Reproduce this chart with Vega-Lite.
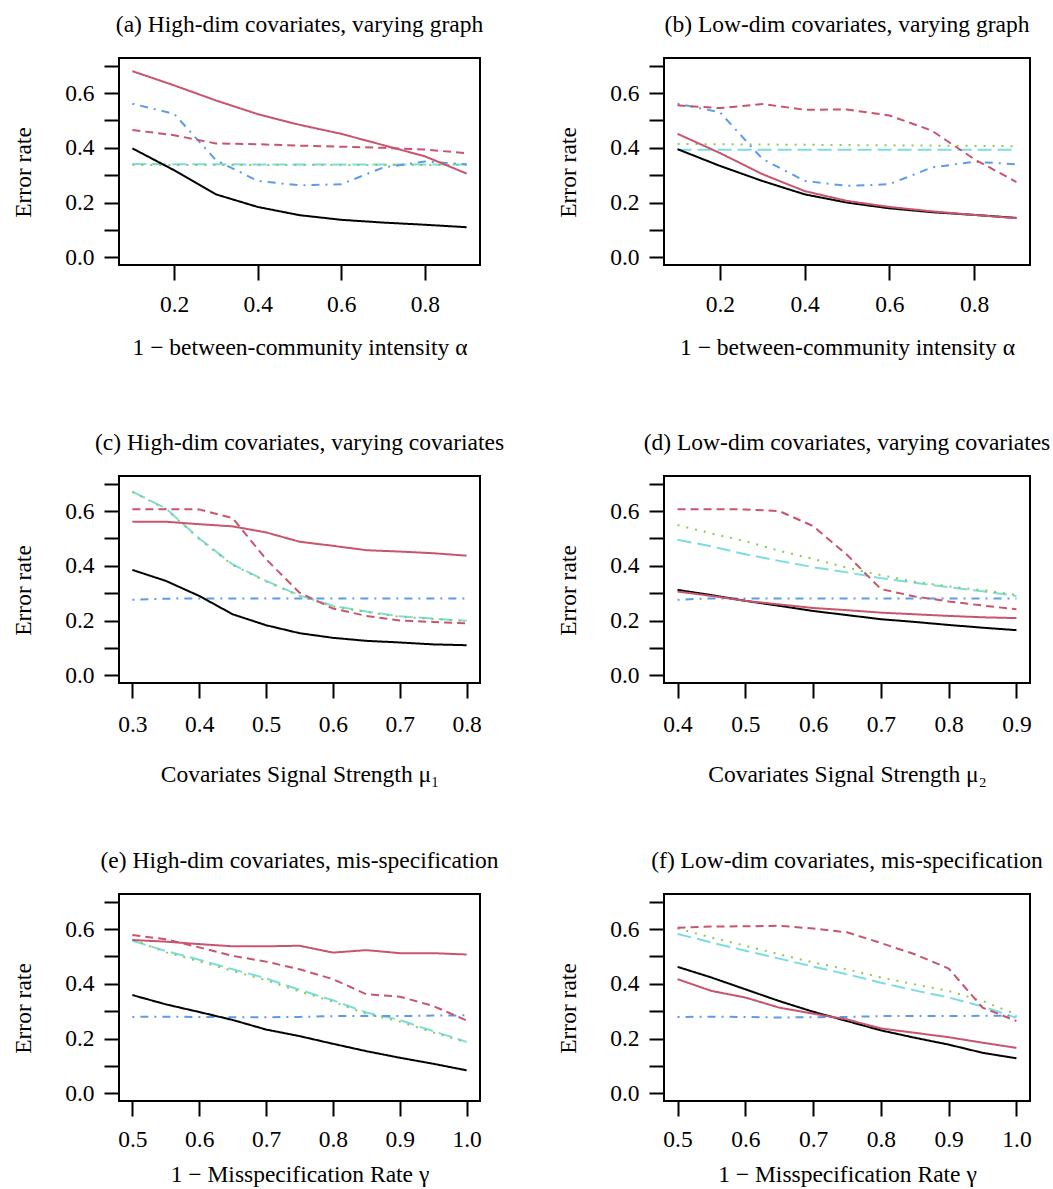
{
  "$schema": "https://vega.github.io/schema/vega-lite/v6.json",
  "padding": {"left": 10, "top": 12, "right": 5, "bottom": 0},
  "background": "white",
  "bounds": "flush",
  "columns": 2,
  "spacing": {"row": 211, "column": 184},
  "datasets": {
    "table": [
      {"panel":"a","method":"M5","x":0.1,"y":0.341},{"panel":"a","method":"M5","x":0.2,"y":0.340},{"panel":"a","method":"M5","x":0.3,"y":0.340},{"panel":"a","method":"M5","x":0.4,"y":0.339},{"panel":"a","method":"M5","x":0.5,"y":0.339},{"panel":"a","method":"M5","x":0.6,"y":0.339},{"panel":"a","method":"M5","x":0.7,"y":0.339},{"panel":"a","method":"M5","x":0.8,"y":0.339},{"panel":"a","method":"M5","x":0.9,"y":0.339},
      {"panel":"a","method":"M6","x":0.1,"y":0.337},{"panel":"a","method":"M6","x":0.2,"y":0.337},{"panel":"a","method":"M6","x":0.3,"y":0.337},{"panel":"a","method":"M6","x":0.4,"y":0.337},{"panel":"a","method":"M6","x":0.5,"y":0.337},{"panel":"a","method":"M6","x":0.6,"y":0.337},{"panel":"a","method":"M6","x":0.7,"y":0.337},{"panel":"a","method":"M6","x":0.8,"y":0.337},{"panel":"a","method":"M6","x":0.9,"y":0.337},
      {"panel":"a","method":"M4","x":0.1,"y":0.561},{"panel":"a","method":"M4","x":0.2,"y":0.524},{"panel":"a","method":"M4","x":0.3,"y":0.355},{"panel":"a","method":"M4","x":0.4,"y":0.279},{"panel":"a","method":"M4","x":0.5,"y":0.263},{"panel":"a","method":"M4","x":0.6,"y":0.267},{"panel":"a","method":"M4","x":0.7,"y":0.328},{"panel":"a","method":"M4","x":0.8,"y":0.350},{"panel":"a","method":"M4","x":0.9,"y":0.340},
      {"panel":"a","method":"M3","x":0.1,"y":0.465},{"panel":"a","method":"M3","x":0.2,"y":0.446},{"panel":"a","method":"M3","x":0.3,"y":0.416},{"panel":"a","method":"M3","x":0.4,"y":0.413},{"panel":"a","method":"M3","x":0.5,"y":0.408},{"panel":"a","method":"M3","x":0.6,"y":0.404},{"panel":"a","method":"M3","x":0.7,"y":0.400},{"panel":"a","method":"M3","x":0.8,"y":0.394},{"panel":"a","method":"M3","x":0.9,"y":0.380},
      {"panel":"a","method":"M1","x":0.1,"y":0.398},{"panel":"a","method":"M1","x":0.2,"y":0.318},{"panel":"a","method":"M1","x":0.3,"y":0.230},{"panel":"a","method":"M1","x":0.4,"y":0.184},{"panel":"a","method":"M1","x":0.5,"y":0.154},{"panel":"a","method":"M1","x":0.6,"y":0.137},{"panel":"a","method":"M1","x":0.7,"y":0.127},{"panel":"a","method":"M1","x":0.8,"y":0.119},{"panel":"a","method":"M1","x":0.9,"y":0.110},
      {"panel":"a","method":"M2","x":0.1,"y":0.680},{"panel":"a","method":"M2","x":0.2,"y":0.628},{"panel":"a","method":"M2","x":0.3,"y":0.573},{"panel":"a","method":"M2","x":0.4,"y":0.523},{"panel":"a","method":"M2","x":0.5,"y":0.484},{"panel":"a","method":"M2","x":0.6,"y":0.451},{"panel":"a","method":"M2","x":0.7,"y":0.410},{"panel":"a","method":"M2","x":0.8,"y":0.369},{"panel":"a","method":"M2","x":0.9,"y":0.306},

      {"panel":"b","method":"M5","x":0.1,"y":0.393},{"panel":"b","method":"M5","x":0.2,"y":0.393},{"panel":"b","method":"M5","x":0.3,"y":0.393},{"panel":"b","method":"M5","x":0.4,"y":0.393},{"panel":"b","method":"M5","x":0.5,"y":0.393},{"panel":"b","method":"M5","x":0.6,"y":0.393},{"panel":"b","method":"M5","x":0.7,"y":0.393},{"panel":"b","method":"M5","x":0.8,"y":0.393},{"panel":"b","method":"M5","x":0.9,"y":0.393},
      {"panel":"b","method":"M6","x":0.1,"y":0.414},{"panel":"b","method":"M6","x":0.2,"y":0.413},{"panel":"b","method":"M6","x":0.3,"y":0.412},{"panel":"b","method":"M6","x":0.4,"y":0.411},{"panel":"b","method":"M6","x":0.5,"y":0.410},{"panel":"b","method":"M6","x":0.6,"y":0.409},{"panel":"b","method":"M6","x":0.7,"y":0.408},{"panel":"b","method":"M6","x":0.8,"y":0.407},{"panel":"b","method":"M6","x":0.9,"y":0.406},
      {"panel":"b","method":"M4","x":0.1,"y":0.561},{"panel":"b","method":"M4","x":0.2,"y":0.530},{"panel":"b","method":"M4","x":0.3,"y":0.360},{"panel":"b","method":"M4","x":0.4,"y":0.279},{"panel":"b","method":"M4","x":0.5,"y":0.261},{"panel":"b","method":"M4","x":0.6,"y":0.267},{"panel":"b","method":"M4","x":0.7,"y":0.328},{"panel":"b","method":"M4","x":0.8,"y":0.349},{"panel":"b","method":"M4","x":0.9,"y":0.340},
      {"panel":"b","method":"M3","x":0.1,"y":0.555},{"panel":"b","method":"M3","x":0.2,"y":0.545},{"panel":"b","method":"M3","x":0.3,"y":0.560},{"panel":"b","method":"M3","x":0.4,"y":0.539},{"panel":"b","method":"M3","x":0.5,"y":0.540},{"panel":"b","method":"M3","x":0.6,"y":0.518},{"panel":"b","method":"M3","x":0.7,"y":0.463},{"panel":"b","method":"M3","x":0.8,"y":0.359},{"panel":"b","method":"M3","x":0.9,"y":0.275},
      {"panel":"b","method":"M1","x":0.1,"y":0.395},{"panel":"b","method":"M1","x":0.2,"y":0.334},{"panel":"b","method":"M1","x":0.3,"y":0.279},{"panel":"b","method":"M1","x":0.4,"y":0.230},{"panel":"b","method":"M1","x":0.5,"y":0.200},{"panel":"b","method":"M1","x":0.6,"y":0.179},{"panel":"b","method":"M1","x":0.7,"y":0.165},{"panel":"b","method":"M1","x":0.8,"y":0.155},{"panel":"b","method":"M1","x":0.9,"y":0.144},
      {"panel":"b","method":"M2","x":0.1,"y":0.451},{"panel":"b","method":"M2","x":0.2,"y":0.381},{"panel":"b","method":"M2","x":0.3,"y":0.304},{"panel":"b","method":"M2","x":0.4,"y":0.242},{"panel":"b","method":"M2","x":0.5,"y":0.206},{"panel":"b","method":"M2","x":0.6,"y":0.184},{"panel":"b","method":"M2","x":0.7,"y":0.168},{"panel":"b","method":"M2","x":0.8,"y":0.155},{"panel":"b","method":"M2","x":0.9,"y":0.143},

      {"panel":"c","method":"M5","x":0.30,"y":0.671},{"panel":"c","method":"M5","x":0.35,"y":0.610},{"panel":"c","method":"M5","x":0.40,"y":0.500},{"panel":"c","method":"M5","x":0.45,"y":0.405},{"panel":"c","method":"M5","x":0.50,"y":0.345},{"panel":"c","method":"M5","x":0.55,"y":0.292},{"panel":"c","method":"M5","x":0.60,"y":0.254},{"panel":"c","method":"M5","x":0.65,"y":0.233},{"panel":"c","method":"M5","x":0.70,"y":0.216},{"panel":"c","method":"M5","x":0.75,"y":0.207},{"panel":"c","method":"M5","x":0.80,"y":0.199},
      {"panel":"c","method":"M6","x":0.30,"y":0.670},{"panel":"c","method":"M6","x":0.35,"y":0.608},{"panel":"c","method":"M6","x":0.40,"y":0.498},{"panel":"c","method":"M6","x":0.45,"y":0.403},{"panel":"c","method":"M6","x":0.50,"y":0.343},{"panel":"c","method":"M6","x":0.55,"y":0.290},{"panel":"c","method":"M6","x":0.60,"y":0.252},{"panel":"c","method":"M6","x":0.65,"y":0.231},{"panel":"c","method":"M6","x":0.70,"y":0.214},{"panel":"c","method":"M6","x":0.75,"y":0.206},{"panel":"c","method":"M6","x":0.80,"y":0.198},
      {"panel":"c","method":"M4","x":0.30,"y":0.276},{"panel":"c","method":"M4","x":0.35,"y":0.280},{"panel":"c","method":"M4","x":0.40,"y":0.281},{"panel":"c","method":"M4","x":0.45,"y":0.281},{"panel":"c","method":"M4","x":0.50,"y":0.281},{"panel":"c","method":"M4","x":0.55,"y":0.281},{"panel":"c","method":"M4","x":0.60,"y":0.281},{"panel":"c","method":"M4","x":0.65,"y":0.281},{"panel":"c","method":"M4","x":0.70,"y":0.281},{"panel":"c","method":"M4","x":0.75,"y":0.281},{"panel":"c","method":"M4","x":0.80,"y":0.281},
      {"panel":"c","method":"M3","x":0.30,"y":0.607},{"panel":"c","method":"M3","x":0.35,"y":0.607},{"panel":"c","method":"M3","x":0.40,"y":0.606},{"panel":"c","method":"M3","x":0.45,"y":0.574},{"panel":"c","method":"M3","x":0.50,"y":0.424},{"panel":"c","method":"M3","x":0.55,"y":0.302},{"panel":"c","method":"M3","x":0.60,"y":0.244},{"panel":"c","method":"M3","x":0.65,"y":0.217},{"panel":"c","method":"M3","x":0.70,"y":0.200},{"panel":"c","method":"M3","x":0.75,"y":0.195},{"panel":"c","method":"M3","x":0.80,"y":0.190},
      {"panel":"c","method":"M1","x":0.30,"y":0.385},{"panel":"c","method":"M1","x":0.35,"y":0.345},{"panel":"c","method":"M1","x":0.40,"y":0.290},{"panel":"c","method":"M1","x":0.45,"y":0.223},{"panel":"c","method":"M1","x":0.50,"y":0.183},{"panel":"c","method":"M1","x":0.55,"y":0.154},{"panel":"c","method":"M1","x":0.60,"y":0.137},{"panel":"c","method":"M1","x":0.65,"y":0.126},{"panel":"c","method":"M1","x":0.70,"y":0.120},{"panel":"c","method":"M1","x":0.75,"y":0.113},{"panel":"c","method":"M1","x":0.80,"y":0.110},
      {"panel":"c","method":"M2","x":0.30,"y":0.561},{"panel":"c","method":"M2","x":0.35,"y":0.561},{"panel":"c","method":"M2","x":0.40,"y":0.552},{"panel":"c","method":"M2","x":0.45,"y":0.544},{"panel":"c","method":"M2","x":0.50,"y":0.522},{"panel":"c","method":"M2","x":0.55,"y":0.488},{"panel":"c","method":"M2","x":0.60,"y":0.473},{"panel":"c","method":"M2","x":0.65,"y":0.457},{"panel":"c","method":"M2","x":0.70,"y":0.452},{"panel":"c","method":"M2","x":0.75,"y":0.446},{"panel":"c","method":"M2","x":0.80,"y":0.437},

      {"panel":"d","method":"M5","x":0.40,"y":0.495},{"panel":"d","method":"M5","x":0.45,"y":0.471},{"panel":"d","method":"M5","x":0.50,"y":0.442},{"panel":"d","method":"M5","x":0.55,"y":0.418},{"panel":"d","method":"M5","x":0.60,"y":0.395},{"panel":"d","method":"M5","x":0.65,"y":0.376},{"panel":"d","method":"M5","x":0.70,"y":0.355},{"panel":"d","method":"M5","x":0.75,"y":0.338},{"panel":"d","method":"M5","x":0.80,"y":0.322},{"panel":"d","method":"M5","x":0.85,"y":0.307},{"panel":"d","method":"M5","x":0.90,"y":0.290},
      {"panel":"d","method":"M6","x":0.40,"y":0.549},{"panel":"d","method":"M6","x":0.45,"y":0.518},{"panel":"d","method":"M6","x":0.50,"y":0.490},{"panel":"d","method":"M6","x":0.55,"y":0.455},{"panel":"d","method":"M6","x":0.60,"y":0.425},{"panel":"d","method":"M6","x":0.65,"y":0.393},{"panel":"d","method":"M6","x":0.70,"y":0.366},{"panel":"d","method":"M6","x":0.75,"y":0.342},{"panel":"d","method":"M6","x":0.80,"y":0.325},{"panel":"d","method":"M6","x":0.85,"y":0.311},{"panel":"d","method":"M6","x":0.90,"y":0.294},
      {"panel":"d","method":"M4","x":0.40,"y":0.276},{"panel":"d","method":"M4","x":0.45,"y":0.281},{"panel":"d","method":"M4","x":0.50,"y":0.281},{"panel":"d","method":"M4","x":0.55,"y":0.281},{"panel":"d","method":"M4","x":0.60,"y":0.281},{"panel":"d","method":"M4","x":0.65,"y":0.281},{"panel":"d","method":"M4","x":0.70,"y":0.281},{"panel":"d","method":"M4","x":0.75,"y":0.281},{"panel":"d","method":"M4","x":0.80,"y":0.281},{"panel":"d","method":"M4","x":0.85,"y":0.281},{"panel":"d","method":"M4","x":0.90,"y":0.281},
      {"panel":"d","method":"M3","x":0.40,"y":0.607},{"panel":"d","method":"M3","x":0.45,"y":0.607},{"panel":"d","method":"M3","x":0.50,"y":0.606},{"panel":"d","method":"M3","x":0.55,"y":0.600},{"panel":"d","method":"M3","x":0.60,"y":0.545},{"panel":"d","method":"M3","x":0.65,"y":0.440},{"panel":"d","method":"M3","x":0.70,"y":0.315},{"panel":"d","method":"M3","x":0.75,"y":0.288},{"panel":"d","method":"M3","x":0.80,"y":0.270},{"panel":"d","method":"M3","x":0.85,"y":0.255},{"panel":"d","method":"M3","x":0.90,"y":0.241},
      {"panel":"d","method":"M1","x":0.40,"y":0.312},{"panel":"d","method":"M1","x":0.45,"y":0.293},{"panel":"d","method":"M1","x":0.50,"y":0.272},{"panel":"d","method":"M1","x":0.55,"y":0.254},{"panel":"d","method":"M1","x":0.60,"y":0.235},{"panel":"d","method":"M1","x":0.65,"y":0.220},{"panel":"d","method":"M1","x":0.70,"y":0.205},{"panel":"d","method":"M1","x":0.75,"y":0.195},{"panel":"d","method":"M1","x":0.80,"y":0.184},{"panel":"d","method":"M1","x":0.85,"y":0.174},{"panel":"d","method":"M1","x":0.90,"y":0.165},
      {"panel":"d","method":"M2","x":0.40,"y":0.306},{"panel":"d","method":"M2","x":0.45,"y":0.290},{"panel":"d","method":"M2","x":0.50,"y":0.272},{"panel":"d","method":"M2","x":0.55,"y":0.259},{"panel":"d","method":"M2","x":0.60,"y":0.246},{"panel":"d","method":"M2","x":0.65,"y":0.238},{"panel":"d","method":"M2","x":0.70,"y":0.229},{"panel":"d","method":"M2","x":0.75,"y":0.223},{"panel":"d","method":"M2","x":0.80,"y":0.217},{"panel":"d","method":"M2","x":0.85,"y":0.212},{"panel":"d","method":"M2","x":0.90,"y":0.209},

      {"panel":"e","method":"M5","x":0.50,"y":0.557},{"panel":"e","method":"M5","x":0.55,"y":0.520},{"panel":"e","method":"M5","x":0.60,"y":0.488},{"panel":"e","method":"M5","x":0.65,"y":0.453},{"panel":"e","method":"M5","x":0.70,"y":0.420},{"panel":"e","method":"M5","x":0.75,"y":0.378},{"panel":"e","method":"M5","x":0.80,"y":0.340},{"panel":"e","method":"M5","x":0.85,"y":0.295},{"panel":"e","method":"M5","x":0.90,"y":0.268},{"panel":"e","method":"M5","x":0.95,"y":0.227},{"panel":"e","method":"M5","x":1.00,"y":0.188},
      {"panel":"e","method":"M6","x":0.50,"y":0.562},{"panel":"e","method":"M6","x":0.55,"y":0.515},{"panel":"e","method":"M6","x":0.60,"y":0.482},{"panel":"e","method":"M6","x":0.65,"y":0.447},{"panel":"e","method":"M6","x":0.70,"y":0.413},{"panel":"e","method":"M6","x":0.75,"y":0.372},{"panel":"e","method":"M6","x":0.80,"y":0.335},{"panel":"e","method":"M6","x":0.85,"y":0.290},{"panel":"e","method":"M6","x":0.90,"y":0.262},{"panel":"e","method":"M6","x":0.95,"y":0.222},{"panel":"e","method":"M6","x":1.00,"y":0.186},
      {"panel":"e","method":"M4","x":0.50,"y":0.279},{"panel":"e","method":"M4","x":0.55,"y":0.280},{"panel":"e","method":"M4","x":0.60,"y":0.279},{"panel":"e","method":"M4","x":0.65,"y":0.278},{"panel":"e","method":"M4","x":0.70,"y":0.278},{"panel":"e","method":"M4","x":0.75,"y":0.279},{"panel":"e","method":"M4","x":0.80,"y":0.282},{"panel":"e","method":"M4","x":0.85,"y":0.282},{"panel":"e","method":"M4","x":0.90,"y":0.282},{"panel":"e","method":"M4","x":0.95,"y":0.284},{"panel":"e","method":"M4","x":1.00,"y":0.285},
      {"panel":"e","method":"M3","x":0.50,"y":0.578},{"panel":"e","method":"M3","x":0.55,"y":0.563},{"panel":"e","method":"M3","x":0.60,"y":0.533},{"panel":"e","method":"M3","x":0.65,"y":0.502},{"panel":"e","method":"M3","x":0.70,"y":0.481},{"panel":"e","method":"M3","x":0.75,"y":0.453},{"panel":"e","method":"M3","x":0.80,"y":0.417},{"panel":"e","method":"M3","x":0.85,"y":0.362},{"panel":"e","method":"M3","x":0.90,"y":0.353},{"panel":"e","method":"M3","x":0.95,"y":0.319},{"panel":"e","method":"M3","x":1.00,"y":0.266},
      {"panel":"e","method":"M1","x":0.50,"y":0.359},{"panel":"e","method":"M1","x":0.55,"y":0.325},{"panel":"e","method":"M1","x":0.60,"y":0.297},{"panel":"e","method":"M1","x":0.65,"y":0.268},{"panel":"e","method":"M1","x":0.70,"y":0.233},{"panel":"e","method":"M1","x":0.75,"y":0.209},{"panel":"e","method":"M1","x":0.80,"y":0.181},{"panel":"e","method":"M1","x":0.85,"y":0.154},{"panel":"e","method":"M1","x":0.90,"y":0.130},{"panel":"e","method":"M1","x":0.95,"y":0.108},{"panel":"e","method":"M1","x":1.00,"y":0.084},
      {"panel":"e","method":"M2","x":0.50,"y":0.560},{"panel":"e","method":"M2","x":0.55,"y":0.554},{"panel":"e","method":"M2","x":0.60,"y":0.545},{"panel":"e","method":"M2","x":0.65,"y":0.537},{"panel":"e","method":"M2","x":0.70,"y":0.537},{"panel":"e","method":"M2","x":0.75,"y":0.539},{"panel":"e","method":"M2","x":0.80,"y":0.514},{"panel":"e","method":"M2","x":0.85,"y":0.523},{"panel":"e","method":"M2","x":0.90,"y":0.512},{"panel":"e","method":"M2","x":0.95,"y":0.512},{"panel":"e","method":"M2","x":1.00,"y":0.507},

      {"panel":"f","method":"M5","x":0.50,"y":0.582},{"panel":"f","method":"M5","x":0.55,"y":0.551},{"panel":"f","method":"M5","x":0.60,"y":0.521},{"panel":"f","method":"M5","x":0.65,"y":0.492},{"panel":"f","method":"M5","x":0.70,"y":0.463},{"panel":"f","method":"M5","x":0.75,"y":0.435},{"panel":"f","method":"M5","x":0.80,"y":0.404},{"panel":"f","method":"M5","x":0.85,"y":0.376},{"panel":"f","method":"M5","x":0.90,"y":0.350},{"panel":"f","method":"M5","x":0.95,"y":0.317},{"panel":"f","method":"M5","x":1.00,"y":0.276},
      {"panel":"f","method":"M6","x":0.50,"y":0.602},{"panel":"f","method":"M6","x":0.55,"y":0.569},{"panel":"f","method":"M6","x":0.60,"y":0.539},{"panel":"f","method":"M6","x":0.65,"y":0.508},{"panel":"f","method":"M6","x":0.70,"y":0.478},{"panel":"f","method":"M6","x":0.75,"y":0.453},{"panel":"f","method":"M6","x":0.80,"y":0.423},{"panel":"f","method":"M6","x":0.85,"y":0.398},{"panel":"f","method":"M6","x":0.90,"y":0.374},{"panel":"f","method":"M6","x":0.95,"y":0.337},{"panel":"f","method":"M6","x":1.00,"y":0.288},
      {"panel":"f","method":"M4","x":0.50,"y":0.279},{"panel":"f","method":"M4","x":0.55,"y":0.280},{"panel":"f","method":"M4","x":0.60,"y":0.279},{"panel":"f","method":"M4","x":0.65,"y":0.277},{"panel":"f","method":"M4","x":0.70,"y":0.278},{"panel":"f","method":"M4","x":0.75,"y":0.279},{"panel":"f","method":"M4","x":0.80,"y":0.282},{"panel":"f","method":"M4","x":0.85,"y":0.282},{"panel":"f","method":"M4","x":0.90,"y":0.282},{"panel":"f","method":"M4","x":0.95,"y":0.283},{"panel":"f","method":"M4","x":1.00,"y":0.283},
      {"panel":"f","method":"M3","x":0.50,"y":0.605},{"panel":"f","method":"M3","x":0.55,"y":0.609},{"panel":"f","method":"M3","x":0.60,"y":0.610},{"panel":"f","method":"M3","x":0.65,"y":0.612},{"panel":"f","method":"M3","x":0.70,"y":0.602},{"panel":"f","method":"M3","x":0.75,"y":0.588},{"panel":"f","method":"M3","x":0.80,"y":0.549},{"panel":"f","method":"M3","x":0.85,"y":0.508},{"panel":"f","method":"M3","x":0.90,"y":0.456},{"panel":"f","method":"M3","x":0.95,"y":0.313},{"panel":"f","method":"M3","x":1.00,"y":0.264},
      {"panel":"f","method":"M1","x":0.50,"y":0.462},{"panel":"f","method":"M1","x":0.55,"y":0.423},{"panel":"f","method":"M1","x":0.60,"y":0.380},{"panel":"f","method":"M1","x":0.65,"y":0.337},{"panel":"f","method":"M1","x":0.70,"y":0.298},{"panel":"f","method":"M1","x":0.75,"y":0.264},{"panel":"f","method":"M1","x":0.80,"y":0.230},{"panel":"f","method":"M1","x":0.85,"y":0.203},{"panel":"f","method":"M1","x":0.90,"y":0.178},{"panel":"f","method":"M1","x":0.95,"y":0.148},{"panel":"f","method":"M1","x":1.00,"y":0.128},
      {"panel":"f","method":"M2","x":0.50,"y":0.417},{"panel":"f","method":"M2","x":0.55,"y":0.374},{"panel":"f","method":"M2","x":0.60,"y":0.350},{"panel":"f","method":"M2","x":0.65,"y":0.313},{"panel":"f","method":"M2","x":0.70,"y":0.291},{"panel":"f","method":"M2","x":0.75,"y":0.270},{"panel":"f","method":"M2","x":0.80,"y":0.237},{"panel":"f","method":"M2","x":0.85,"y":0.221},{"panel":"f","method":"M2","x":0.90,"y":0.205},{"panel":"f","method":"M2","x":0.95,"y":0.185},{"panel":"f","method":"M2","x":1.00,"y":0.166}
    ]
  },
  "concat": [
    {
      "width": 361, "height": 207,
      "title": "(a) High-dim covariates, varying graph",
      "data": {"name": "table"},
      "transform": [{"filter": "datum.panel === 'a'"}],
      "mark": {"type": "line", "strokeWidth": 2, "strokeCap": "butt", "clip": true},
      "encoding": {
        "x": {"field": "x", "type": "quantitative", "scale": {"domain": [0.068, 0.932], "nice": false, "zero": false}, "axis": {"values": [0.2, 0.4, 0.6, 0.8], "format": ".1f", "title": "1 − between-community intensity α", "titleY": 89, "labelPadding": 12}},
        "y": {"field": "y", "type": "quantitative", "scale": {"domain": [-0.028, 0.728], "nice": false, "zero": false}, "axis": {"values": [0, 0.1, 0.2, 0.3, 0.4, 0.5, 0.6, 0.7], "labelExpr": "round(datum.value*10) % 2 === 0 ? format(datum.value, '.1f') : ''", "title": "Error rate"}},
        "color": {"field": "method", "type": "nominal", "scale": {"domain": ["M1", "M2", "M3", "M4", "M5", "M6"], "range": ["#000000", "#C9546E", "#C9546E", "#5B9BE8", "#7CDCE0", "#8CCB4E"]}, "legend": null},
        "strokeDash": {"field": "method", "type": "nominal", "scale": {"domain": ["M1", "M2", "M3", "M4", "M5", "M6"], "range": [[1, 0], [1, 0], [8, 5], [2, 6, 8, 6], [14, 6], [2, 7]]}, "legend": null}
      }
    },
    {
      "width": 366, "height": 207,
      "title": "(b) Low-dim covariates, varying graph",
      "data": {"name": "table"},
      "transform": [{"filter": "datum.panel === 'b'"}],
      "mark": {"type": "line", "strokeWidth": 2, "strokeCap": "butt", "clip": true},
      "encoding": {
        "x": {"field": "x", "type": "quantitative", "scale": {"domain": [0.068, 0.932], "nice": false, "zero": false}, "axis": {"values": [0.2, 0.4, 0.6, 0.8], "format": ".1f", "title": "1 − between-community intensity α", "titleY": 89, "labelPadding": 12}},
        "y": {"field": "y", "type": "quantitative", "scale": {"domain": [-0.028, 0.728], "nice": false, "zero": false}, "axis": {"values": [0, 0.1, 0.2, 0.3, 0.4, 0.5, 0.6, 0.7], "labelExpr": "round(datum.value*10) % 2 === 0 ? format(datum.value, '.1f') : ''", "title": "Error rate"}},
        "color": {"field": "method", "type": "nominal", "scale": {"domain": ["M1", "M2", "M3", "M4", "M5", "M6"], "range": ["#000000", "#C9546E", "#C9546E", "#5B9BE8", "#7CDCE0", "#8CCB4E"]}, "legend": null},
        "strokeDash": {"field": "method", "type": "nominal", "scale": {"domain": ["M1", "M2", "M3", "M4", "M5", "M6"], "range": [[1, 0], [1, 0], [8, 5], [2, 6, 8, 6], [14, 6], [2, 7]]}, "legend": null}
      }
    },
    {
      "width": 361, "height": 207,
      "title": "(c) High-dim covariates, varying covariates",
      "data": {"name": "table"},
      "transform": [{"filter": "datum.panel === 'c'"}],
      "mark": {"type": "line", "strokeWidth": 2, "strokeCap": "butt", "clip": true},
      "encoding": {
        "x": {"field": "x", "type": "quantitative", "scale": {"domain": [0.28, 0.82], "nice": false, "zero": false}, "axis": {"values": [0.3, 0.4, 0.5, 0.6, 0.7, 0.8], "format": ".1f", "title": "Covariates Signal Strength μ₁", "titleY": 98, "labelPadding": 14}},
        "y": {"field": "y", "type": "quantitative", "scale": {"domain": [-0.028, 0.728], "nice": false, "zero": false}, "axis": {"values": [0, 0.1, 0.2, 0.3, 0.4, 0.5, 0.6, 0.7], "labelExpr": "round(datum.value*10) % 2 === 0 ? format(datum.value, '.1f') : ''", "title": "Error rate"}},
        "color": {"field": "method", "type": "nominal", "scale": {"domain": ["M1", "M2", "M3", "M4", "M5", "M6"], "range": ["#000000", "#C9546E", "#C9546E", "#5B9BE8", "#7CDCE0", "#8CCB4E"]}, "legend": null},
        "strokeDash": {"field": "method", "type": "nominal", "scale": {"domain": ["M1", "M2", "M3", "M4", "M5", "M6"], "range": [[1, 0], [1, 0], [8, 5], [2, 6, 8, 6], [14, 6], [2, 7]]}, "legend": null}
      }
    },
    {
      "width": 366, "height": 207,
      "title": "(d) Low-dim covariates, varying covariates",
      "data": {"name": "table"},
      "transform": [{"filter": "datum.panel === 'd'"}],
      "mark": {"type": "line", "strokeWidth": 2, "strokeCap": "butt", "clip": true},
      "encoding": {
        "x": {"field": "x", "type": "quantitative", "scale": {"domain": [0.38, 0.92], "nice": false, "zero": false}, "axis": {"values": [0.4, 0.5, 0.6, 0.7, 0.8, 0.9], "format": ".1f", "title": "Covariates Signal Strength μ₂", "titleY": 98, "labelPadding": 14}},
        "y": {"field": "y", "type": "quantitative", "scale": {"domain": [-0.028, 0.728], "nice": false, "zero": false}, "axis": {"values": [0, 0.1, 0.2, 0.3, 0.4, 0.5, 0.6, 0.7], "labelExpr": "round(datum.value*10) % 2 === 0 ? format(datum.value, '.1f') : ''", "title": "Error rate"}},
        "color": {"field": "method", "type": "nominal", "scale": {"domain": ["M1", "M2", "M3", "M4", "M5", "M6"], "range": ["#000000", "#C9546E", "#C9546E", "#5B9BE8", "#7CDCE0", "#8CCB4E"]}, "legend": null},
        "strokeDash": {"field": "method", "type": "nominal", "scale": {"domain": ["M1", "M2", "M3", "M4", "M5", "M6"], "range": [[1, 0], [1, 0], [8, 5], [2, 6, 8, 6], [14, 6], [2, 7]]}, "legend": null}
      }
    },
    {
      "width": 361, "height": 207,
      "title": "(e) High-dim covariates, mis-specification",
      "data": {"name": "table"},
      "transform": [{"filter": "datum.panel === 'e'"}],
      "mark": {"type": "line", "strokeWidth": 2, "strokeCap": "butt", "clip": true},
      "encoding": {
        "x": {"field": "x", "type": "quantitative", "scale": {"domain": [0.48, 1.02], "nice": false, "zero": false}, "axis": {"values": [0.5, 0.6, 0.7, 0.8, 0.9, 1.0], "format": ".1f", "title": "1 − Misspecification Rate γ", "titleY": 80, "labelPadding": 11}},
        "y": {"field": "y", "type": "quantitative", "scale": {"domain": [-0.028, 0.728], "nice": false, "zero": false}, "axis": {"values": [0, 0.1, 0.2, 0.3, 0.4, 0.5, 0.6, 0.7], "labelExpr": "round(datum.value*10) % 2 === 0 ? format(datum.value, '.1f') : ''", "title": "Error rate"}},
        "color": {"field": "method", "type": "nominal", "scale": {"domain": ["M1", "M2", "M3", "M4", "M5", "M6"], "range": ["#000000", "#C9546E", "#C9546E", "#5B9BE8", "#7CDCE0", "#8CCB4E"]}, "legend": null},
        "strokeDash": {"field": "method", "type": "nominal", "scale": {"domain": ["M1", "M2", "M3", "M4", "M5", "M6"], "range": [[1, 0], [1, 0], [8, 5], [2, 6, 8, 6], [14, 6], [2, 7]]}, "legend": null}
      }
    },
    {
      "width": 366, "height": 207,
      "title": "(f) Low-dim covariates, mis-specification",
      "data": {"name": "table"},
      "transform": [{"filter": "datum.panel === 'f'"}],
      "mark": {"type": "line", "strokeWidth": 2, "strokeCap": "butt", "clip": true},
      "encoding": {
        "x": {"field": "x", "type": "quantitative", "scale": {"domain": [0.48, 1.02], "nice": false, "zero": false}, "axis": {"values": [0.5, 0.6, 0.7, 0.8, 0.9, 1.0], "format": ".1f", "title": "1 − Misspecification Rate γ", "titleY": 80, "labelPadding": 11}},
        "y": {"field": "y", "type": "quantitative", "scale": {"domain": [-0.028, 0.728], "nice": false, "zero": false}, "axis": {"values": [0, 0.1, 0.2, 0.3, 0.4, 0.5, 0.6, 0.7], "labelExpr": "round(datum.value*10) % 2 === 0 ? format(datum.value, '.1f') : ''", "title": "Error rate"}},
        "color": {"field": "method", "type": "nominal", "scale": {"domain": ["M1", "M2", "M3", "M4", "M5", "M6"], "range": ["#000000", "#C9546E", "#C9546E", "#5B9BE8", "#7CDCE0", "#8CCB4E"]}, "legend": null},
        "strokeDash": {"field": "method", "type": "nominal", "scale": {"domain": ["M1", "M2", "M3", "M4", "M5", "M6"], "range": [[1, 0], [1, 0], [8, 5], [2, 6, 8, 6], [14, 6], [2, 7]]}, "legend": null}
      }
    }
  ],
  "config": {
    "view": {"stroke": "black", "strokeWidth": 2},
    "axis": {
      "domain": false, "grid": false,
      "tickColor": "black", "tickWidth": 2, "tickSize": 15,
      "labelFont": "Liberation Serif", "labelFontSize": 23.5, "labelColor": "black",
      "titleFont": "Liberation Serif", "titleFontSize": 23.5, "titleFontWeight": "normal", "titleColor": "black"
    },
    "axisX": {"titleBaseline": "alphabetic", "labelFlush": false, "labelOverlap": false},
    "axisY": {"labelPadding": 10, "titleX": -96, "titleY": 114, "titleBaseline": "middle", "titleAngle": 270, "labelOverlap": false},
    "title": {"font": "Liberation Serif", "fontSize": 23.5, "fontWeight": "normal", "color": "black", "baseline": "alphabetic", "offset": 17, "frame": "group", "anchor": "middle"}
  }
}
